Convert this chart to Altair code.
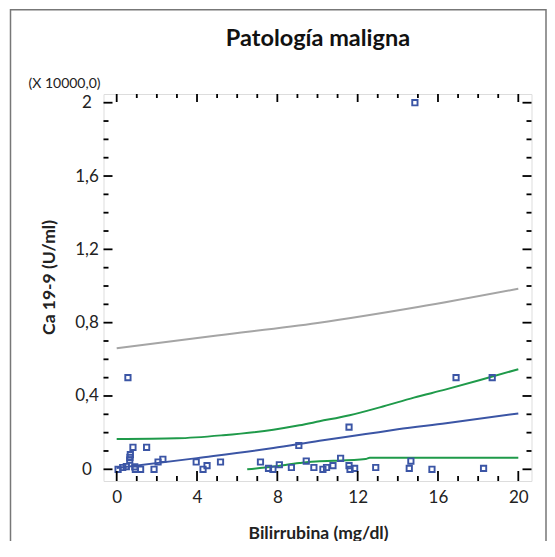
import altair as alt
import pandas as pd

# ---- data ----
bili = [0.07, 0.3, 0.48, 0.56, 0.65, 0.66, 0.68, 0.81, 0.9, 0.93, 1.19, 1.49, 1.86, 2.06, 2.3,
        3.96, 4.3, 4.5, 5.17, 7.16, 7.56, 7.78, 8.1, 8.7, 9.07, 9.44, 9.82, 10.27, 10.45, 10.77,
        11.15, 11.57, 11.57, 11.62, 11.85, 12.9, 14.57, 14.65, 14.85, 15.7, 16.9, 18.27, 18.7]
ca199 = [0.0, 0.01, 0.015, 0.5, 0.05, 0.065, 0.08, 0.12, 0.013, 0.0, 0.0, 0.12, 0.0, 0.04, 0.055,
         0.04, 0.0, 0.02, 0.04, 0.04, 0.005, 0.0, 0.025, 0.01, 0.13, 0.045, 0.01, 0.0, 0.01, 0.02,
         0.06, 0.23, 0.02, 0.0, 0.005, 0.01, 0.005, 0.045, 2.0, 0.0, 0.5, 0.005, 0.5]

gray_x = [0, 5, 10, 15, 20]
gray_y = [0.661, 0.730, 0.798, 0.885, 0.985]

green_hi_x = [0, 3.0, 5.3, 7.8, 9.1, 10.1, 11.6, 13.1, 14.8, 16.4, 18.1, 20.0]
green_hi_y = [0.165, 0.169, 0.186, 0.216, 0.240, 0.262, 0.295, 0.338, 0.391, 0.436, 0.487, 0.546]

blue_x = [0, 4.0, 7.8, 10.1, 12.4, 14.0, 16.4, 20.0]
blue_y = [0.007, 0.061, 0.116, 0.156, 0.192, 0.218, 0.251, 0.305]

green_lo_x = [6.5, 7.8, 9.1, 10.1, 10.8, 12.4, 12.6, 20.0]
green_lo_y = [0.0, 0.015, 0.034, 0.044, 0.046, 0.056, 0.063, 0.063]

x_major = [0, 4, 8, 12, 16, 20]
x_minor = [v for v in range(1, 20) if v % 4 != 0]
y_major = [0, 0.4, 0.8, 1.2, 1.6, 2.0]
y_minor = [round(i * 0.1, 1) for i in range(1, 20) if i % 4 != 0]

title_text = "Patología maligna"
mult_text = "(X 10000,0)"
x_title = "Bilirrubina (mg/dl)"
y_title = "Ca 19-9 (U/ml)"

# ---- layout ----
W, H = 428, 387
FONT = "Lato"
BLUE = "#3B55A5"
GREEN = "#1F9A4A"
GRAY = "#A5A5A5"

xs = alt.Scale(domain=[-0.657, 20.657], nice=False, zero=False)
ys = alt.Scale(domain=[-0.0638, 2.0475], nice=False, zero=False)

xaxis = alt.Axis(values=x_major, title=x_title, ticks=False, domain=False, grid=False,
                 labelPadding=8, labelFontSize=17, labelFont=FONT, labelColor="#222",
                 titleFont=FONT, titleFontSize=17.5, titleFontWeight="bold", titleColor="#222",
                 titleX=214.5, titleY=57, titleBaseline="alphabetic", titleAlign="center")
yaxis = alt.Axis(values=y_major, title=y_title, ticks=False, domain=False, grid=False,
                 labelExpr="replace(format(datum.value, '~g'), '.', ',')",
                 labelAlign="center", labelPadding=17, labelFontSize=17, labelFont=FONT,
                 labelColor="#222",
                 titleFont=FONT, titleFontSize=17.5, titleFontWeight="bold", titleColor="#222",
                 titleX=-54, titleY=183, titleAngle=270, titleBaseline="middle", titleAlign="center")

X = lambda f: alt.X(f, type="quantitative", scale=xs, axis=xaxis)
Y = lambda f: alt.Y(f, type="quantitative", scale=ys, axis=yaxis)

one = pd.DataFrame({"k": [0]})

border = alt.Chart(one).mark_rect(filled=False, stroke="#777777", strokeWidth=1.5).encode(
    x=alt.value(-93), x2=alt.value(442.5), y=alt.value(-84.3), y2=alt.value(500))

rows = []
for name, xv, yv in [("gray", gray_x, gray_y), ("ghi", green_hi_x, green_hi_y),
                     ("blue", blue_x, blue_y), ("glo", green_lo_x, green_lo_y)]:
    for i, (a, b) in enumerate(zip(xv, yv)):
        rows.append({"series": name, "order": i, "bx": a, "cy": b})
lines_df = pd.DataFrame(rows)

lines = alt.Chart(lines_df).mark_line(strokeWidth=2, interpolate="monotone").encode(
    x=X("bx"), y=Y("cy"),
    color=alt.Color("series:N", scale=alt.Scale(domain=["gray", "ghi", "blue", "glo"],
                                                range=[GRAY, GREEN, BLUE, GREEN]), legend=None),
    order="order:Q")

pts = alt.Chart(pd.DataFrame({"bx": bili, "cy": ca199})).mark_point(
    shape="square", filled=False, size=28, strokeWidth=1.9, color=BLUE, opacity=1).encode(
    x=X("bx"), y=Y("cy"))


def xticks(vals, y0, y1):
    return alt.Chart(pd.DataFrame({"bx": vals})).mark_rule(color="black", strokeWidth=1.8).encode(
        x=X("bx"), y=alt.value(y0), y2=alt.value(y1))


def yticks(vals, x0, x1):
    return alt.Chart(pd.DataFrame({"cy": vals})).mark_rule(color="black", strokeWidth=1.8).encode(
        y=Y("cy"), x=alt.value(x0), x2=alt.value(x1))


ticks = [
    xticks(x_major, H, H - 10), xticks(x_minor, H, H - 5),
    xticks(x_major, 0, 8), xticks(x_minor, 0, 4),
    yticks(y_major, 0, 9), yticks(y_minor, 0, 5),
    yticks(y_major, W, W - 9), yticks(y_minor, W, W - 5),
]

title = alt.Chart(one).mark_text(text=title_text, font=FONT, fontSize=23.5, fontWeight="bold",
                                 color="#111", align="center", baseline="alphabetic").encode(
    x=alt.value(214.5), y=alt.value(-48))
mult = alt.Chart(one).mark_text(text=mult_text, font=FONT, fontSize=14, color="#222",
                                align="center", baseline="alphabetic").encode(
    x=alt.value(-39), y=alt.value(-6))

chart = alt.layer(lines, pts, *ticks, border, title, mult).properties(
    width=W, height=H,
    padding={"left": 95.5, "top": 86, "right": 15.5, "bottom": 60},
    autosize=alt.AutoSizeParams(type="none"),
).configure_view(stroke="black", strokeWidth=2.5).configure(font=FONT)

chart.save("out.html", embed_options={"renderer": "svg", "actions": False})
